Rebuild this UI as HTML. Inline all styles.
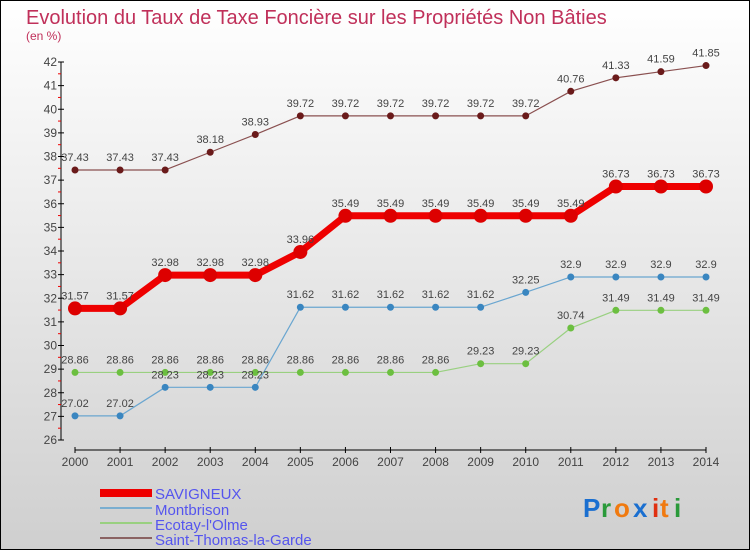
<!DOCTYPE html>
<html><head><meta charset="utf-8"><style>
body{margin:0}
#c{width:750px;height:550px;position:relative;overflow:hidden;box-sizing:border-box;border:1px solid #000;background:linear-gradient(#fff,#cfcfcf);font-family:"Liberation Sans",sans-serif}
</style></head><body>
<div id="c">
<svg id="s" width="750" height="550" style="position:absolute;left:-1px;top:-1px">
<text x="26" y="24" font-size="20" fill="#c0305a">Evolution du Taux de Taxe Foncière sur les Propriétés Non Bâties</text>
<text x="26" y="40" font-size="12" fill="#c0305a">(en %)</text>
<g id="axes"></g><g id="series"></g>
<g>
<rect x="100" y="489" width="52" height="8" fill="#e00"/>
<text x="155" y="499" font-size="15" fill="#5555ee">SAVIGNEUX</text>
<rect x="100" y="507" width="52" height="2" fill="#7aaed0"/>
<text x="155" y="515" font-size="15" fill="#5555ee">Montbrison</text>
<rect x="100" y="522" width="52" height="2" fill="#99d080"/>
<text x="155" y="530" font-size="15" fill="#5555ee">Ecotay-l'Olme</text>
<rect x="100" y="537" width="52" height="2" fill="#8a6262"/>
<text x="155" y="545" font-size="15" fill="#5555ee">Saint-Thomas-la-Garde</text>
</g>
<g font-size="26" font-weight="bold">
<text x="583" y="517" fill="#1a6fd0">P</text><text x="601" y="517" fill="#2a9a3a">r</text><text x="614" y="517" fill="#f07a10">o</text><text x="633" y="517" fill="#1a6fd0">x</text><text x="652" y="517" fill="#e03010">i</text><text x="660" y="517" fill="#f07a10">t</text><text x="674" y="517" fill="#2a9a3a">i</text>
</g>
</svg>
</div>
<script>
const years=[2000,2001,2002,2003,2004,2005,2006,2007,2008,2009,2010,2011,2012,2013,2014];
const yTicks=[26,27,28,29,30,31,32,33,34,35,36,37,38,39,40,41,42];
const savigneux=[31.57,31.57,32.98,32.98,32.98,33.96,35.49,35.49,35.49,35.49,35.49,35.49,36.73,36.73,36.73];
const montbrison=[27.02,27.02,28.23,28.23,28.23,31.62,31.62,31.62,31.62,31.62,32.25,32.9,32.9,32.9,32.9];
const ecotay=[28.86,28.86,28.86,28.86,28.86,28.86,28.86,28.86,28.86,29.23,29.23,30.74,31.49,31.49,31.49];
const stthomas=[37.43,37.43,37.43,38.18,38.93,39.72,39.72,39.72,39.72,39.72,39.72,40.76,41.33,41.59,41.85];
const NS="http://www.w3.org/2000/svg";
const X=i=>75+i*(706-75)/14, Y=v=>62+(42-v)*(378/16);
function mk(p,t,a){const e=document.createElementNS(NS,t);for(const k in a)e.setAttribute(k,a[k]);p.appendChild(e);return e;}
const ax=document.getElementById('axes'),se=document.getElementById('series');
let l=mk(ax,'line',{x1:61,y1:62,x2:61,y2:440,stroke:'#000'});


l=mk(ax,'line',{x1:75,y1:450,x2:706,y2:450,stroke:'#000'});


yTicks.forEach((v,i)=>{
  mk(ax,'line',{x1:58,y1:Y(v),x2:64,y2:Y(v),stroke:'#000'});
  if(i<yTicks.length-1)mk(ax,'line',{x1:58,y1:Y(v+0.5),x2:61,y2:Y(v+0.5),stroke:'#e00'});
  const t=mk(ax,'text',{x:57,y:Y(v)+4,'font-size':12,fill:'#444','text-anchor':'end'});t.textContent=v;
  
  
});
years.forEach((y,i)=>{
  mk(ax,'line',{x1:X(i),y1:447,x2:X(i),y2:453,stroke:'#000'});
  const t=mk(ax,'text',{x:X(i),y:466,'font-size':12,fill:'#444','text-anchor':'middle'});t.textContent=y;
  
  
});
function draw(d,name,col,dot,w,r,lab){
  const g=mk(se,'g',{});
  
  
  const pl=mk(g,'polyline',{points:d.map((v,i)=>X(i)+','+Y(v)).join(' '),fill:'none',stroke:col,'stroke-width':w,'stroke-linejoin':'round'});
  d.forEach((v,i)=>{
    const c=mk(g,'circle',{cx:X(i),cy:Y(v),r:r,fill:dot});
    
    
    const t=mk(g,'text',{x:X(i),y:Y(v)-9,'font-size':11,fill:'#444','text-anchor':'middle'});t.textContent=v;
    
    
  });
}
draw(stthomas,'saint-thomas','#8a5050','#6a1a1a',1.2,3.5);
draw(ecotay,'ecotay','#99d080','#6cbf40',1.2,3.5);
draw(montbrison,'montbrison','#6aa6d0','#3a86c0',1.2,3.5);
draw(savigneux,'savigneux','#ee0000','#dd0000',7,7);
</script>
</body></html>
